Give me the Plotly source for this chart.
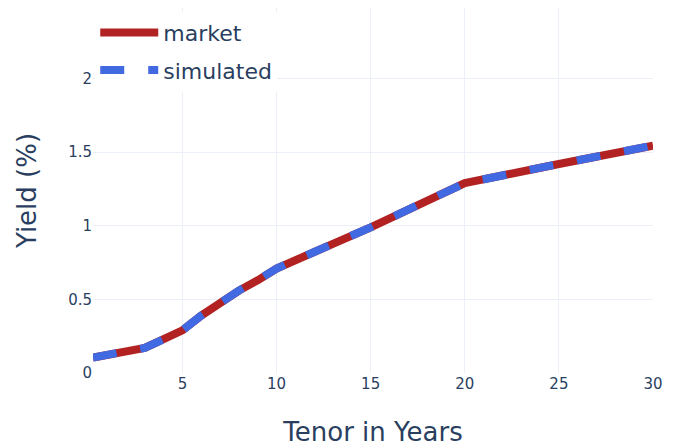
import plotly.graph_objects as go

tenor = [0.25, 0.5, 1, 2, 3, 4, 5, 6, 7, 8, 9, 10, 15, 20, 25, 30]
market = [0.105, 0.11, 0.12, 0.14, 0.17, 0.23, 0.29, 0.39, 0.48, 0.56, 0.63, 0.71, 0.99, 1.29, 1.42, 1.545]
simulated = [0.105, 0.11, 0.12, 0.14, 0.17, 0.23, 0.29, 0.39, 0.48, 0.56, 0.63, 0.71, 0.99, 1.29, 1.42, 1.545]

fig = go.Figure()
fig.add_trace(go.Scatter(x=tenor, y=market, mode="lines", name="market",
                         legendgroup="m",
                         line=dict(color="firebrick", width=8)))
fig.add_trace(go.Scatter(x=tenor, y=simulated, mode="lines", name="simulated",
                         legendgroup="s",
                         line=dict(color="royalblue", width=8, dash="dash")))

fig.update_layout(
    template="plotly_white",
    width=675, height=447,
    margin=dict(l=85, r=30, t=0, b=82),
    font=dict(family="DejaVu Sans", size=15),
    legend=dict(x=0.004, y=0.99, xanchor="left", yanchor="top", bgcolor="white",
                font=dict(size=22), itemwidth=58, tracegroupgap=6),
    xaxis=dict(title=dict(text="Tenor in Years", font=dict(size=26), standoff=30),
               range=[0.25, 30], automargin=False, zeroline=False),
    yaxis=dict(title=dict(text="Yield (%)", font=dict(size=26), standoff=24),
               range=[0, 2.48], automargin=False, zeroline=False,
               tickvals=[0, 0.5, 1, 1.5, 2], ticktext=["0", "0.5", "1", "1.5", "2"]),
)

fig.write_html("out.html")
